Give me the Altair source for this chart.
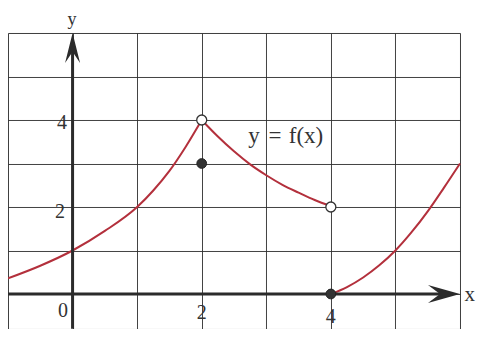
import altair as alt
import pandas as pd

# Curve pieces of y = f(x)
seg1_x = [-1.0, -0.5, 0.0, 0.5, 1.0, 1.25, 1.5, 1.75, 2.0]
seg1_y = [0.36, 0.65, 1.0, 1.45, 2.0, 2.38, 2.83, 3.38, 4.0]
seg2_x = [2.0, 2.25, 2.5, 2.75, 3.0, 3.25, 3.5, 3.75, 4.0]
seg2_y = [4.0, 3.62, 3.28, 2.98, 2.73, 2.51, 2.33, 2.16, 2.02]
seg3_x = [4.0, 4.25, 4.5, 4.75, 5.0, 5.25, 5.5, 5.75, 6.0]
seg3_y = [0.0, 0.16, 0.38, 0.66, 1.0, 1.42, 1.9, 2.44, 3.0]

# Special points
open_x = [2, 4]
open_y = [4, 2]
closed_x = [2, 4]
closed_y = [3, 0]

# Grid values
grid_x = [-1, 0, 1, 2, 3, 4, 5, 6]
grid_y = [0, 1, 2, 3, 4, 5, 6]

# Tick labels (alphabetic baselines)
tick_text = ["0", "2", "4", "2", "4"]
tick_x = [-0.15, 2.0, 4.0, -0.195, -0.165]
tick_y = [-0.53, -0.575, -0.66, 1.75, 3.79]

# Axis names
name_text = ["y", "x"]
name_x = [-0.01, 6.15]
name_y = [6.195, -0.17]
name_size = [18, 21]

# Function label, in pieces
fx_text = ["y", "=", "f(x)"]
fx_x = [2.81, 3.135, 3.615]
fx_y = [3.47, 3.47, 3.47]

X_DOM = [-1, 6]
Y_DOM = [-0.8, 6]

curve = pd.DataFrame(
    {"x": seg1_x + seg2_x + seg3_x,
     "y": seg1_y + seg2_y + seg3_y,
     "seg": ["a"] * len(seg1_x) + ["b"] * len(seg2_x) + ["c"] * len(seg3_x)}
)
opens = pd.DataFrame({"x": open_x, "y": open_y})
closeds = pd.DataFrame({"x": closed_x, "y": closed_y})
ticks = pd.DataFrame({"x": tick_x, "y": tick_y, "t": tick_text})
names = pd.DataFrame({"x": name_x, "y": name_y, "t": name_text, "s": name_size})
fxdf = pd.DataFrame({"x": fx_x, "y": fx_y, "t": fx_text})
xaxis_line = pd.DataFrame({"x": [X_DOM[0], 5.8], "y": [0, 0]})
yaxis_line = pd.DataFrame({"x": [0, 0], "y": [Y_DOM[0], 5.8]})
x_tip = pd.DataFrame({"x": [6], "y": [0]})
y_tip = pd.DataFrame({"x": [0], "y": [6]})

grid_color = "#2e2e2e"


def X():
    return alt.X("x:Q", scale=alt.Scale(domain=X_DOM, nice=False, zero=False),
                 axis=alt.Axis(values=grid_x, grid=True, labels=False, ticks=False,
                               domain=False, title=None, gridColor=grid_color,
                               gridWidth=1, gridOpacity=0.9))


def Y():
    return alt.Y("y:Q", scale=alt.Scale(domain=Y_DOM, nice=False, zero=False),
                 axis=alt.Axis(values=grid_y, grid=True, labels=False, ticks=False,
                               domain=False, title=None, gridColor=grid_color,
                               gridWidth=1, gridOpacity=0.9))


axis_color = "#2b2b2b"
text_color = "#333333"

xline = alt.Chart(xaxis_line).mark_line(color=axis_color, strokeWidth=3).encode(x=X(), y=Y())
yline = alt.Chart(yaxis_line).mark_line(color=axis_color, strokeWidth=3).encode(x=X(), y=Y())

xarrow = alt.Chart(x_tip).mark_point(
    shape="M 0 0 L -2 -0.56 L -1.25 0 L -2 0.56 Z",
    size=1024, filled=True, color=axis_color, opacity=1,
).encode(x=X(), y=Y())
yarrow = alt.Chart(y_tip).mark_point(
    shape="M 0 0 L -0.5 2 L 0 1.25 L 0.5 2 Z",
    size=900, filled=True, color=axis_color, opacity=1,
).encode(x=X(), y=Y())

lines = alt.Chart(curve).mark_line(
    color="#b3303c", strokeWidth=2, interpolate="monotone"
).encode(x=X(), y=Y(), detail="seg:N")

open_pts = alt.Chart(opens).mark_point(
    shape="circle", size=100, filled=True, fill="white", stroke="#333333",
    strokeWidth=1.3, opacity=1,
).encode(x=X(), y=Y())
closed_pts = alt.Chart(closeds).mark_point(
    shape="circle", size=95, filled=True, fill="#333333", stroke="#222222",
    strokeWidth=1, opacity=1,
).encode(x=X(), y=Y())

tick_labels = alt.Chart(ticks).mark_text(
    font="Liberation Serif", fontSize=20, color=text_color,
    baseline="alphabetic", align="center"
).encode(x=X(), y=Y(), text="t:N")

name_labels = alt.Chart(names).mark_text(
    font="Liberation Serif", color=text_color,
    baseline="alphabetic", align="center"
).encode(x=X(), y=Y(), text="t:N", size=alt.Size("s:Q", scale=None, legend=None))

fx = alt.Chart(fxdf).mark_text(
    font="Liberation Serif", fontSize=23, color=text_color,
    baseline="alphabetic", align="center"
).encode(x=X(), y=Y(), text="t:N")

chart = alt.layer(
    lines, xline, yline, xarrow, yarrow, open_pts, closed_pts,
    tick_labels, name_labels, fx
).properties(
    width=452, height=295.8,
    autosize=alt.AutoSizeParams(type="none"),
    padding={"left": 0, "top": 25, "right": 16, "bottom": 0},
).configure_view(stroke=None).configure(background="white")

chart.save("out.html", embed_options={"renderer": "svg", "actions": False})
